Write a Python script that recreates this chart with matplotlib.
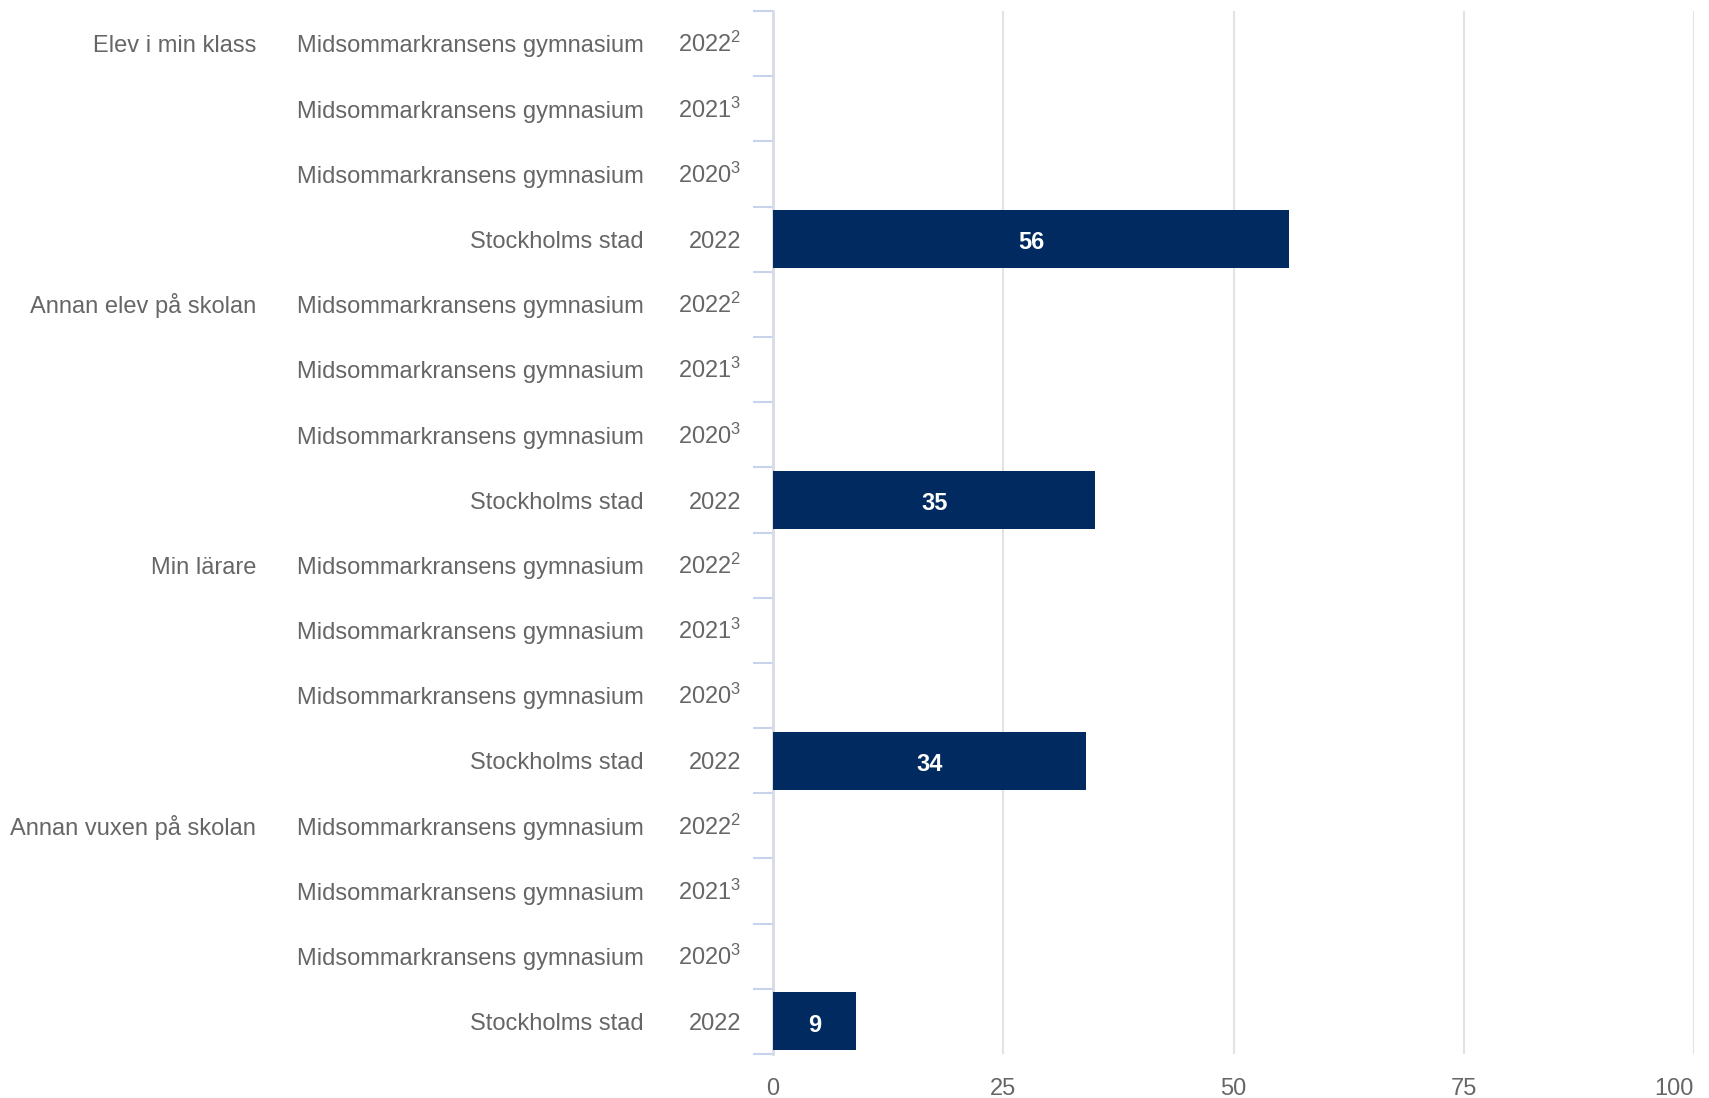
import matplotlib
matplotlib.use("Agg")
import matplotlib.pyplot as plt
import matplotlib.transforms as mtransforms
import numpy as np

plt.rcParams['font.family'] = ['Liberation Sans', 'DejaVu Sans']
plt.rcParams['mathtext.fontset'] = 'custom'
plt.rcParams['mathtext.rm'] = 'Liberation Sans'
plt.rcParams['mathtext.default'] = 'rm'

groups = ["Elev i min klass", "Annan elev på skolan", "Min lärare", "Annan vuxen på skolan"]
units = ["Midsommarkransens gymnasium", "Midsommarkransens gymnasium",
         "Midsommarkransens gymnasium", "Stockholms stad"]
years = ["2022$^{2}$", "2021$^{3}$", "2020$^{3}$", "2022"]
# values per group: school 2022, 2021, 2020 (no data), Stockholms stad 2022
values = [
    [None, None, None, 56],
    [None, None, None, 35],
    [None, None, None, 34],
    [None, None, None, 9],
]
xticks = [0, 25, 50, 75, 100]

text_col = "#666666"
bar_col = "#002a60"

fig = plt.figure(figsize=(17.09, 10.98), dpi=100)
ax = fig.add_axes([773 / 1709, 1 - 1054 / 1098, (1694 - 773) / 1709, (1054 - 11) / 1098])

n_rows = len(groups) * len(units)
ax.set_ylim(n_rows - 0.5, -0.5)
ax.set_xlim(0, 100)

trans = mtransforms.blended_transform_factory(fig.transFigure, ax.transData)
fs = 17
base = 0.135  # baseline offset below row centre
row = 0
for g, vals in zip(groups, values):
    for j, (u, yr, v) in enumerate(zip(units, years, vals)):
        if j == 0:
            ax.text(256 / 1709, row + base, g, transform=trans, ha="right", va="baseline",
                    fontsize=fs, color=text_col)
        ax.text(644 / 1709, row + base, u, transform=trans, ha="right", va="baseline",
                fontsize=fs, color=text_col)
        ax.text(741 / 1709, row + base, yr, transform=trans, ha="right", va="baseline",
                fontsize=fs, color=text_col)
        if v is not None:
            ax.barh(row, v, height=0.89, color=bar_col, zorder=3)
            ax.text(v / 2, row + base + 0.02, str(v), ha="center", va="baseline", color="white",
                    fontsize=fs, fontweight="bold", zorder=4)
        row += 1

ax.set_yticks([])
ax.set_yticks(np.arange(-0.5, n_rows, 1), minor=True)
ax.tick_params(axis="y", which="minor", length=14.5, width=1.5, color="#c8d2ea", labelleft=False)

ax.set_xticks(xticks)
ax.set_xticklabels([str(t) for t in xticks])
ax.get_xticklabels()[-1].set_ha("right")
ax.tick_params(axis="x", length=0, labelsize=fs, labelcolor=text_col, pad=17)
ax.xaxis.grid(True, color="#e3e3e3", linewidth=1.5, zorder=0)

for s in ["top", "right", "bottom"]:
    ax.spines[s].set_visible(False)
ax.spines["left"].set_color("#d8dbe6")
ax.spines["left"].set_linewidth(2)

fig.savefig("out.png", dpi=100)
